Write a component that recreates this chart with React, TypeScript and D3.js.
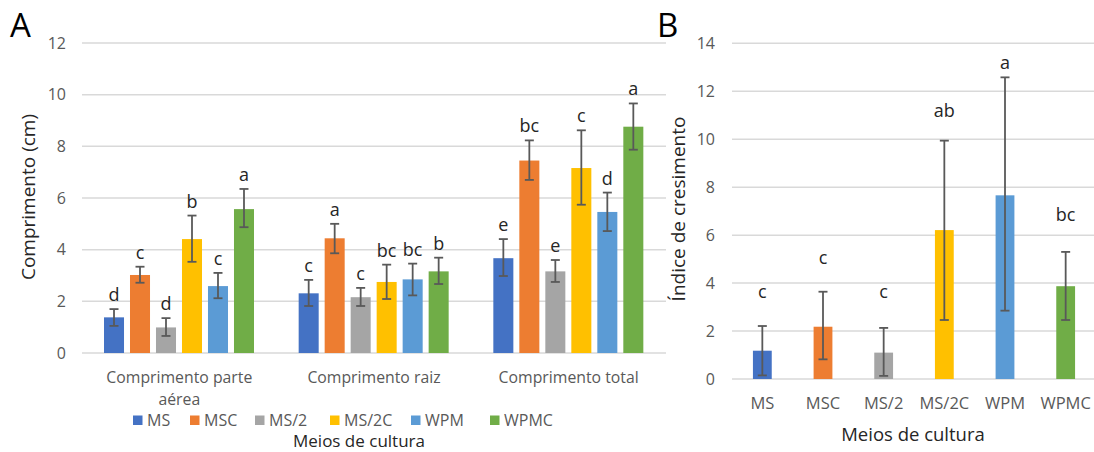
import React from "react";
import * as d3 from "d3";

const series = ["MS", "MSC", "MS/2", "MS/2C", "WPM", "WPMC"];
const colors = ["#4472C4", "#ED7D31", "#A5A5A5", "#FFC000", "#5B9BD5", "#70AD47"];

const groupsA = ["Comprimento parte aérea", "Comprimento raiz", "Comprimento total"];
const groupLinesA = [["Comprimento parte", "aérea"], ["Comprimento raiz"], ["Comprimento total"]];
// values per group, per series
const valuesA = [
  [1.38, 3.02, 0.99, 4.41, 2.59, 5.57],
  [2.31, 4.44, 2.16, 2.75, 2.85, 3.16],
  [3.67, 7.45, 3.16, 7.16, 5.46, 8.76],
];
const errHighA = [
  [1.7, 3.34, 1.35, 5.32, 3.1, 6.35],
  [2.83, 5.0, 2.52, 3.42, 3.46, 3.69],
  [4.41, 8.23, 3.6, 8.62, 6.21, 9.66],
];
const errLowA = [
  [1.05, 2.72, 0.66, 3.53, 2.12, 4.87],
  [1.82, 3.86, 1.82, 2.09, 2.23, 2.67],
  [2.98, 6.7, 2.75, 5.74, 4.72, 7.87],
];
const lettersA = [
  ["d", "c", "d", "b", "c", "a"],
  ["c", "a", "c", "bc", "bc", "b"],
  ["e", "bc", "e", "c", "d", "a"],
];
const ticksA = [0, 2, 4, 6, 8, 10, 12];

const valuesB = [1.18, 2.18, 1.1, 6.21, 7.66, 3.87];
const errHighB = [2.21, 3.64, 2.13, 9.94, 12.58, 5.3];
const errLowB = [0.15, 0.82, 0.13, 2.46, 2.85, 2.46];
const lettersB = ["c", "c", "c", "ab", "a", "bc"];
const letterPosB = [3.63, 5.05, 3.63, 11.2, 13.2, 6.84];
const ticksB = [0, 2, 4, 6, 8, 10, 12, 14];

const FONT = "'Open Sans', sans-serif";
const TICK = "#595959";
const GRID = "#d9d9d9";
const ERR = "#595959";
const DARK = "#262626";

function ErrorBar({ x, y1, y2, cap }: { x: number; y1: number; y2: number; cap: number }) {
  return (
    <g stroke={ERR} strokeWidth={1.8}>
      <line x1={x} x2={x} y1={y1} y2={y2} />
      <line x1={x - cap} x2={x + cap} y1={y1} y2={y1} />
      <line x1={x - cap} x2={x + cap} y1={y2} y2={y2} />
    </g>
  );
}

export default function App() {
  // Chart A
  const yA = d3.scaleLinear().domain([0, 12]).range([353, 43]);
  const xA = d3.scaleBand().domain(groupsA).range([82, 666]);
  const xInner = d3.scaleBand().domain(series).range([22, 172]).paddingInner(0.23).paddingOuter(0);

  // Chart B
  const yB = d3.scaleLinear().domain([0, 14]).range([379, 43.3]);
  const xB = d3.scaleBand().domain(series).range([732, 1096]).paddingInner(0.69).paddingOuter(0.345);

  const legendX = [133, 190, 255, 330, 411, 490];

  return (
    <svg width={1094} height={452} style={{ position: "absolute", left: 0, top: 0, background: "#fff" }} fontFamily={FONT}>
      <rect width={1094} height={452} fill="#fff" />
      {/* Chart A gridlines */}
      {ticksA.map((t) => (
        <g key={"ga" + t}>
          <line x1={82} x2={666} y1={yA(t)} y2={yA(t)} stroke={GRID} strokeWidth={1.5} />
          <text x={66} y={yA(t)} dy="0.35em" textAnchor="end" fontSize={16} fill={TICK}>{t}</text>
        </g>
      ))}
      {/* Chart A bars */}
      {groupsA.map((g, gi) => {
        const gx = (xA(g) as number) + xA.bandwidth() / 2;
        return (
          <g key={g}>
            {series.map((s, si) => {
              const x = (xA(g) as number) + (xInner(s) as number);
              const w = xInner.bandwidth();
              const cx = x + w / 2;
              return (
                <g key={s}>
                  <rect x={x} y={yA(valuesA[gi][si])} width={w} height={yA(0) - yA(valuesA[gi][si])} fill={colors[si]} />
                  <ErrorBar x={cx} y1={yA(errHighA[gi][si])} y2={yA(errLowA[gi][si])} cap={4.5} />
                  <text x={cx} y={yA(errHighA[gi][si]) - 8} textAnchor="middle" fontSize={18} fill={DARK}>{lettersA[gi][si]}</text>
                </g>
              );
            })}
            <text x={gx} y={383} textAnchor="middle" fontSize={15.8} fill={TICK}>
              {groupLinesA[gi].map((ln, li) => (
                <tspan key={li} x={gx} dy={li === 0 ? 0 : 21.5}>{ln}</tspan>
              ))}
            </text>
          </g>
        );
      })}
      {/* Legend */}
      {series.map((s, si) => (
        <g key={"lg" + s}>
          <rect x={legendX[si]} y={415.5} width={9.5} height={9.5} fill={colors[si]} />
          <text x={legendX[si] + 14} y={425.5} fontSize={16} fill={TICK}>{s}</text>
        </g>
      ))}
      <text x={359} y={447} textAnchor="middle" fontSize={17} fill={DARK}>Meios de cultura</text>
      <text transform={`translate(28,197) rotate(-90)`} dy="0.35em" textAnchor="middle" fontSize={19} fill={DARK}>Comprimento (cm)</text>
      <text x={10} y={37} fontSize={33} fill="#000">A</text>

      {/* Chart B */}
      {ticksB.map((t) => (
        <g key={"gb" + t}>
          <line x1={732} x2={1094} y1={yB(t)} y2={yB(t)} stroke={GRID} strokeWidth={1.5} />
          <text x={715} y={yB(t)} dy="0.35em" textAnchor="end" fontSize={16} fill={TICK}>{t}</text>
        </g>
      ))}
      {series.map((s, si) => {
        const x = xB(s) as number;
        const w = xB.bandwidth();
        const cx = x + w / 2;
        return (
          <g key={"b" + s}>
            <rect x={x} y={yB(valuesB[si])} width={w} height={yB(0) - yB(valuesB[si])} fill={colors[si]} />
            <ErrorBar x={cx} y1={yB(errHighB[si])} y2={yB(errLowB[si])} cap={4.5} />
            <text x={cx} y={yB(letterPosB[si])} dy="0.35em" textAnchor="middle" fontSize={18} fill={DARK}>{lettersB[si]}</text>
            <text x={cx} y={409} textAnchor="middle" fontSize={16.5} fill={TICK}>{s}</text>
          </g>
        );
      })}
      <text x={913} y={441} textAnchor="middle" fontSize={18.5} fill={DARK}>Meios de cultura</text>
      <text transform={`translate(678,209) rotate(-90)`} dy="0.35em" textAnchor="middle" fontSize={19} fill={DARK}>Índice de cresimento</text>
      <text x={657} y={37} fontSize={33} fill="#000">B</text>
    </svg>
  );
}
